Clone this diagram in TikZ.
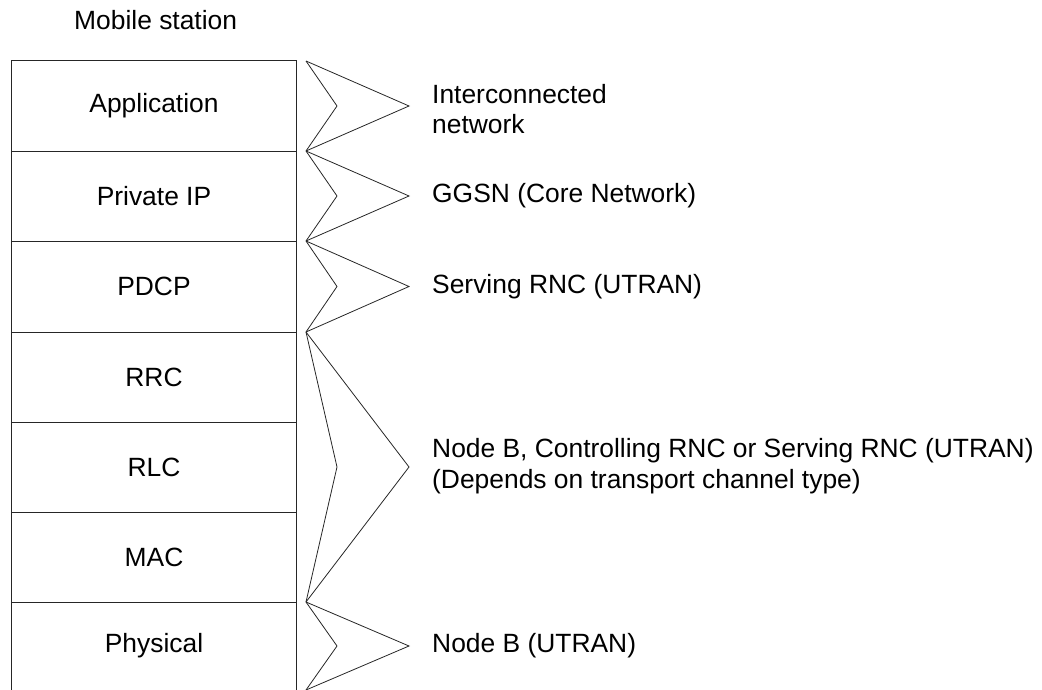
\documentclass[tikz,border=0pt]{standalone}
\usepackage{fontspec}
\setmainfont{Liberation Sans}
\begin{document}
\begin{tikzpicture}[x=1pt,y=-1pt,
  lbl/.style={inner sep=0pt, font=\fontsize{26.4}{30.5}\selectfont},
  side/.style={lbl, anchor=west, align=left},
  frame/.style={line width=1pt, black!85},
  brk/.style={line width=0.8pt, black!85, line join=miter}]
\useasboundingbox (0,0) rectangle (1042,690);
\node[lbl, anchor=base west] (ms) at (74,30) {Mobile station};
% layer nodes
\foreach \name/\txt/\t/\b in {app/Application/61/151, pip/Private IP/151/241, pdcp/PDCP/241/332, rrc/RRC/332/422, rlc/RLC/422/512, mac/MAC/512/602, phy/Physical/602/690}{
  \node[lbl, minimum width=284pt, minimum height={\b-\t}, inner sep=0pt] (\name) at (154,{(\t+\b)/2}) {\txt};
}
% frame lines
\draw[frame] (app.south west) -- (app.north west) -- (app.north east) -- (app.south east);
\foreach \n in {app,pip,pdcp,rrc,rlc,mac}{
  \draw[frame] (\n.south west) -- (\n.south east);
}
\foreach \n in {pip,pdcp,rrc,rlc,mac,phy}{
  \draw[frame] (\n.north west) -- (\n.south west);
  \draw[frame] (\n.north east) -- (\n.south east);
}
% brackets
\foreach \k/\t/\b in {a/61/151, b/151/241, c/241/332, d/332/602, e/602/690}{
  \coordinate (s\k) at (306,\t);
  \coordinate (e\k) at (306,\b);
  \coordinate (i\k) at (337,{(\t+\b)/2});
  \coordinate (p\k) at (409,{(\t+\b)/2});
  \draw[brk] (s\k) -- (i\k) -- (e\k);
  \draw[brk] (s\k) -- (p\k) -- (e\k);
}
% side labels
\node[side] (ta) at (432,109) {Interconnected\\network};
\node[side] (tb) at (432,196) {GGSN (Core Network)};
\node[side] (tc) at (432,286.5) {Serving RNC (UTRAN)};
\node[side] (td) at (432,466) {Node B, Controlling RNC or Serving RNC (UTRAN)\\(Depends on transport channel type)};
\node[side] (te) at (432,646) {Node B (UTRAN)};
\end{tikzpicture}
\end{document}
